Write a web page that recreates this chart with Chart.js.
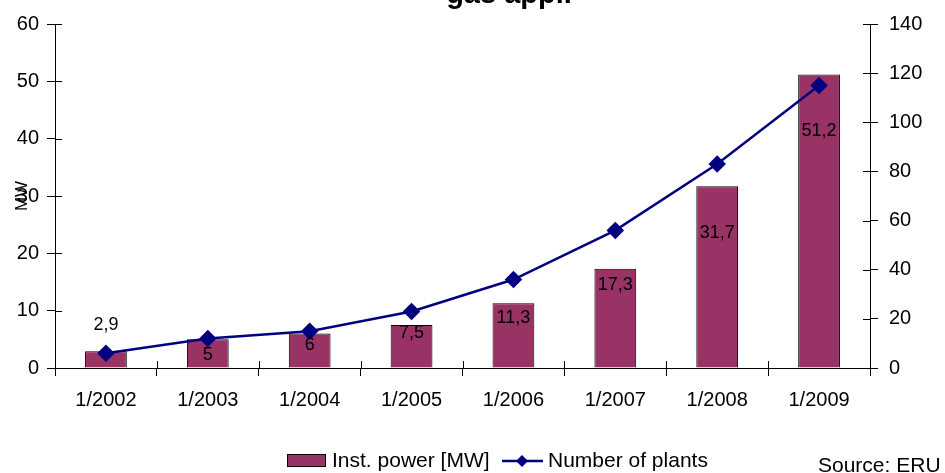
<!DOCTYPE html>
<html>
<head>
<meta charset="utf-8">
<script src="https://cdn.jsdelivr.net/npm/chart.js@4/dist/chart.umd.min.js"></script>
<style>
  html, body { margin: 0; padding: 0; background: #fff; }
  #wrap { width: 945px; height: 473px; position: relative; }
</style>
</head>
<body>
<div id="wrap"><canvas id="c" width="945" height="473"></canvas></div>
<script>
// Categories and series
const categories = ['1/2002', '1/2003', '1/2004', '1/2005', '1/2006', '1/2007', '1/2008', '1/2009'];
const instPowerMW = [2.9, 5, 6, 7.5, 11.3, 17.3, 31.7, 51.2];
const numberOfPlants = [6, 12, 15, 23, 36, 56, 83, 115];
const powerLabels = ['2,9', '5', '6', '7,5', '11,3', '17,3', '31,7', '51,2'];
const leftTicks = [0, 10, 20, 30, 40, 50, 60];
const rightTicks = [0, 20, 40, 60, 80, 100, 120, 140];

// Vertical nudge (px) of each value label from its bar top
const labelNudge = [-26, 16, 11, 8, 15, 16, 47, 57];

const FONT = '"Liberation Sans", Arial, sans-serif';
const BAR = '#993366';
const LINE = '#000080';

// Ticks in this style cross the axis line: draw the inner half here
const crossTicks = {
  id: 'crossTicks',
  afterDraw(chart) {
    const ctx = chart.ctx;
    const a = chart.chartArea;
    const L = 7;
    ctx.save();
    ctx.strokeStyle = '#000';
    ctx.lineWidth = 1;
    ctx.beginPath();
    const yl = chart.scales.y;
    leftTicks.forEach(v => {
      const y = Math.round(yl.getPixelForValue(v)) + 0.5;
      ctx.moveTo(a.left, y); ctx.lineTo(a.left + L, y);
    });
    const yr = chart.scales.y2;
    rightTicks.forEach(v => {
      const y = Math.round(yr.getPixelForValue(v)) + 0.5;
      ctx.moveTo(a.right - L, y); ctx.lineTo(a.right, y);
    });
    const step = (a.right - a.left) / categories.length;
    for (let i = 0; i <= categories.length; i++) {
      const x = Math.round(a.left + i * step) + 0.5;
      ctx.moveTo(x, a.bottom - L); ctx.lineTo(x, a.bottom);
    }
    ctx.stroke();
    ctx.restore();
  }
};

// Value labels on the bars
const valueLabels = {
  id: 'valueLabels',
  afterDatasetsDraw(chart) {
    const ctx = chart.ctx;
    const meta = chart.getDatasetMeta(1);
    ctx.save();
    ctx.font = '18px ' + FONT;
    ctx.fillStyle = '#000';
    ctx.textAlign = 'center';
    ctx.textBaseline = 'middle';
    meta.data.forEach((bar, i) => {
      ctx.fillText(powerLabels[i], bar.x, bar.y + labelNudge[i]);
    });
    ctx.restore();
  }
};

// Title, legend and source note
const decorations = {
  id: 'decorations',
  afterDraw(chart) {
    const ctx = chart.ctx;
    ctx.save();
    ctx.fillStyle = '#000';
    ctx.font = 'bold 29px ' + FONT;
    ctx.textAlign = 'center';
    ctx.textBaseline = 'alphabetic';
    ctx.fillText('gas appl.', 509, 3);

    // legend
    const ly = 461;
    ctx.fillStyle = BAR;
    ctx.fillRect(287.5, ly - 6.5, 38, 12);
    ctx.strokeStyle = '#000';
    ctx.lineWidth = 1;
    ctx.strokeRect(287.5, ly - 6.5, 38, 12);
    ctx.fillStyle = '#000';
    ctx.font = '21px ' + FONT;
    ctx.textAlign = 'left';
    ctx.textBaseline = 'middle';
    ctx.fillText('Inst. power [MW]', 332, ly);

    ctx.strokeStyle = LINE;
    ctx.lineWidth = 2.5;
    ctx.beginPath();
    ctx.moveTo(502, ly); ctx.lineTo(543, ly);
    ctx.stroke();
    ctx.fillStyle = LINE;
    ctx.beginPath();
    ctx.moveTo(522, ly - 6); ctx.lineTo(528, ly); ctx.lineTo(522, ly + 6); ctx.lineTo(516, ly);
    ctx.closePath();
    ctx.fill();
    ctx.fillStyle = '#000';
    ctx.fillText('Number of plants', 548, ly);

    ctx.fillText('Source: ERU', 818, 466);
    ctx.restore();
  }
};

new Chart(document.getElementById('c'), {
  data: {
    labels: categories,
    datasets: [
      {
        type: 'line',
        label: 'Number of plants',
        data: numberOfPlants,
        yAxisID: 'y2',
        borderColor: LINE,
        backgroundColor: LINE,
        borderWidth: 2.5,
        pointStyle: 'rectRot',
        pointRadius: 7,
        pointHoverRadius: 7,
        tension: 0,
        order: 0
      },
      {
        type: 'bar',
        label: 'Inst. power [MW]',
        data: instPowerMW,
        yAxisID: 'y',
        backgroundColor: BAR,
        borderColor: '#000',
        borderWidth: 1,
        categoryPercentage: 1,
        barPercentage: 0.41,
        order: 1
      }
    ]
  },
  options: {
    responsive: false,
    animation: false,
    devicePixelRatio: 1,
    layout: { padding: { top: 24, left: 0, right: 0, bottom: 0 } },
    plugins: {
      legend: { display: false },
      title: { display: false },
      tooltip: { enabled: false }
    },
    scales: {
      x: {
        offset: true,
        grid: { offset: true, drawOnChartArea: false, drawTicks: true, tickLength: 8, color: '#000' },
        border: { color: '#000', width: 1 },
        ticks: { color: '#000', font: { family: FONT, size: 20 }, padding: 12, maxRotation: 0 },
        afterFit(s) { s.height = 105; }
      },
      y: {
        position: 'left',
        min: 0, max: 60,
        afterBuildTicks(s) { s.ticks = leftTicks.map(v => ({ value: v })); },
        grid: { drawOnChartArea: false, drawTicks: true, tickLength: 8, color: '#000' },
        border: { color: '#000', width: 1 },
        ticks: { color: '#000', font: { family: FONT, size: 20 }, padding: 8 },
        title: { display: true, text: 'MW', color: '#000', font: { family: FONT, size: 17 }, padding: { top: 12, bottom: 0 } },
        afterFit(s) { s.width = 55; }
      },
      y2: {
        position: 'right',
        min: 0, max: 140,
        afterBuildTicks(s) { s.ticks = rightTicks.map(v => ({ value: v })); },
        grid: { drawOnChartArea: false, drawTicks: true, tickLength: 8, color: '#000' },
        border: { color: '#000', width: 1 },
        ticks: { color: '#000', font: { family: FONT, size: 20 }, padding: 11 },
        afterFit(s) { s.width = 75; }
      }
    }
  },
  plugins: [crossTicks, valueLabels, decorations]
});
</script>
</body>
</html>
